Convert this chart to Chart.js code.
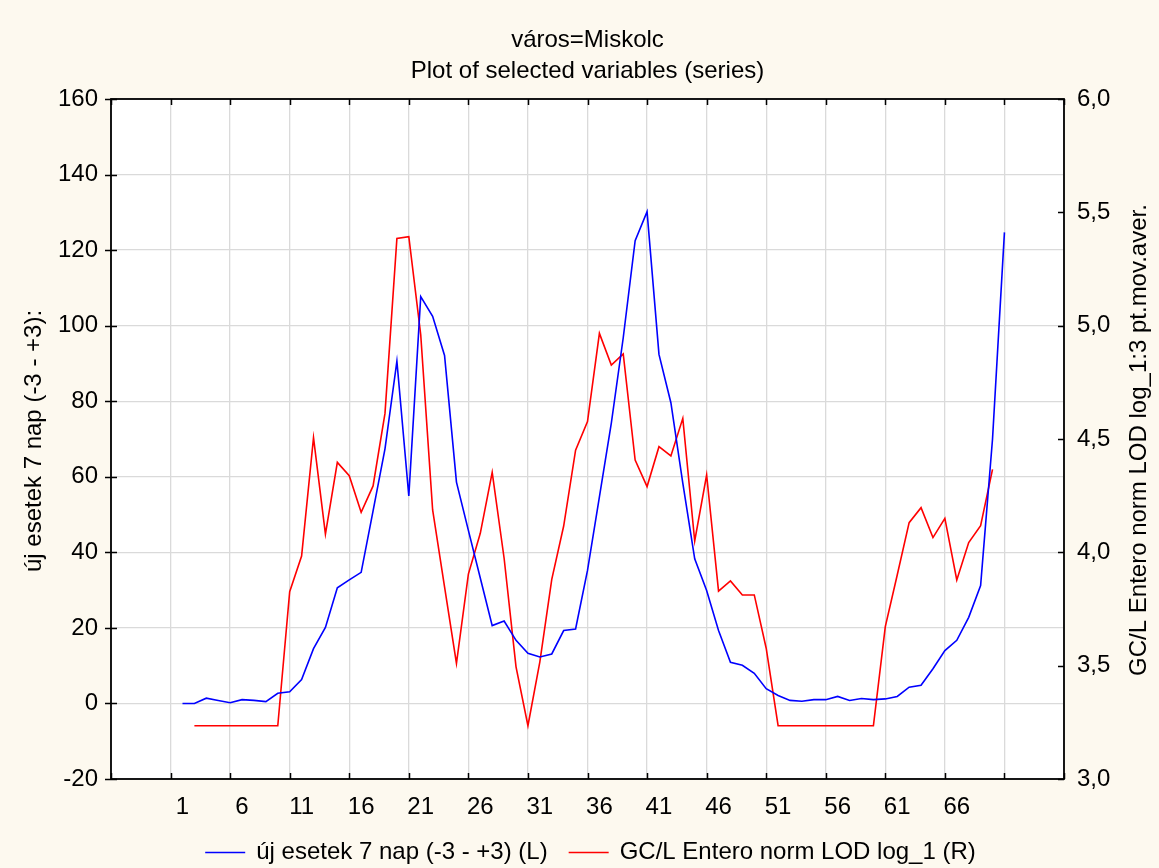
<!DOCTYPE html>
<html>
<head>
<meta charset="utf-8">
<script src="https://cdn.jsdelivr.net/npm/chart.js@4/dist/chart.umd.min.js"></script>
<style>
  html, body { margin: 0; padding: 0; background: #fdf9ef; }
  canvas { display: block; }
</style>
</head>
<body>
<canvas id="c" width="1159" height="868"></canvas>
<script>
// Case numbers (x axis)
const days = [
  1, 2, 3, 4, 5, 6, 7, 8, 9, 10,
  11, 12, 13, 14, 15, 16, 17, 18, 19, 20,
  21, 22, 23, 24, 25, 26, 27, 28, 29, 30,
  31, 32, 33, 34, 35, 36, 37, 38, 39, 40,
  41, 42, 43, 44, 45, 46, 47, 48, 49, 50,
  51, 52, 53, 54, 55, 56, 57, 58, 59, 60,
  61, 62, 63, 64, 65, 66, 67, 68, 69, 70
];

// új esetek 7 nap (-3 - +3)  -> left axis
const newCases = [
  0, 0, 1.4, 0.8, 0.2, 1.0, 0.8, 0.5, 2.7, 3.1,
  6.3, 14.5, 20.1, 30.6, 32.7, 34.7, 51.0, 67.4, 90.6, 54.9,
  107.7, 102.5, 92.1, 58.6, 45.8, 33.2, 20.6, 21.8, 16.7, 13.3,
  12.3, 13.1, 19.3, 19.7, 35.2, 54.7, 74.2, 96.8, 122.5, 130.2,
  92.4, 79.6, 58.3, 38.3, 29.9, 19.3, 10.9, 10.1, 8.0, 3.9,
  2.1, 0.8, 0.6, 1.0, 1.0, 1.85, 0.8, 1.3, 1.0, 1.2,
  1.85, 4.3, 4.8, 9.2, 14.0, 16.7, 22.8, 31.2, 70.0, 124.7
];

// GC/L Entero norm LOD log_1, 3 pt. moving average -> right axis
const enteroLog = [
  null, 3.235, 3.235, 3.235, 3.235, 3.235, 3.235, 3.235, 3.235, 3.826,
  3.984, 4.506, 4.080, 4.397, 4.338, 4.177, 4.293, 4.613, 5.385, 5.393,
  4.96, 4.187, 3.848, 3.510, 3.904, 4.084, 4.353, 3.974, 3.495, 3.235,
  3.517, 3.881, 4.116, 4.451, 4.577, 4.966, 4.826, 4.875, 4.407, 4.290,
  4.466, 4.425, 4.591, 4.050, 4.341, 3.829, 3.874, 3.812, 3.812, 3.577,
  3.235, 3.235, 3.235, 3.235, 3.235, 3.235, 3.235, 3.235, 3.235, 3.672,
  3.90, 4.131, 4.197, 4.065, 4.150, 3.878, 4.043, 4.118, 4.366, null
];

const titleLines = ['város=Miskolc', 'Plot of selected variables (series)'];
const leftTitle = 'új esetek 7 nap (-3 - +3):';
const rightTitle = 'GC/L Entero norm LOD log_1:3 pt.mov.aver.';
const seriesNames = ['új esetek 7 nap (-3 - +3) (L)', 'GC/L Entero norm LOD log_1 (R)'];

const FONT = "'Liberation Sans', Arial, sans-serif";
const PAGE_BG = '#fdf9ef';
const GRID = '#dadada';

const toPoints = ys => days.map((d, i) => ({ x: d, y: ys[i] }));

// Background, frame, inward tick marks, titles and legend
const decorations = {
  id: 'decorations',
  beforeDraw(chart) {
    const { ctx, chartArea: a } = chart;
    ctx.save();
    ctx.fillStyle = PAGE_BG;
    ctx.fillRect(0, 0, chart.width, chart.height);
    ctx.fillStyle = '#ffffff';
    ctx.fillRect(a.left, a.top, a.right - a.left, a.bottom - a.top);
    ctx.restore();
  },
  afterDraw(chart) {
    const { ctx, chartArea: a, scales } = chart;
    ctx.save();

    // plot frame
    ctx.strokeStyle = '#000';
    ctx.lineWidth = 1.8;
    ctx.strokeRect(a.left, a.top, a.right - a.left, a.bottom - a.top);

    // tick marks
    ctx.lineWidth = 1.5;
    ctx.beginPath();
    scales.x.ticks.forEach(t => {
      const px = Math.round(scales.x.getPixelForValue(t.value)) + 0.5;
      ctx.moveTo(px, a.top); ctx.lineTo(px, a.top + 6);
      ctx.moveTo(px, a.bottom); ctx.lineTo(px, a.bottom - 6);
    });
    scales.y.ticks.forEach(t => {
      const py = Math.round(scales.y.getPixelForValue(t.value)) + 0.5;
      ctx.moveTo(a.left - 6, py); ctx.lineTo(a.left + 6, py);
    });
    scales.y1.ticks.forEach(t => {
      const py = Math.round(scales.y1.getPixelForValue(t.value)) + 0.5;
      ctx.moveTo(a.right - 6, py); ctx.lineTo(a.right, py);
    });
    ctx.stroke();

    // chart title
    ctx.fillStyle = '#000';
    ctx.font = '24px ' + FONT;
    ctx.textAlign = 'center';
    ctx.textBaseline = 'middle';
    const cx = (a.left + a.right) / 2;
    ctx.fillText(titleLines[0], cx, 40);
    ctx.fillText(titleLines[1], cx, 71);

    // axis titles
    const cy = (a.top + a.bottom) / 2;
    ctx.save();
    ctx.translate(34, cy + 2);
    ctx.rotate(-Math.PI / 2);
    ctx.fillText(leftTitle, 0, 0);
    ctx.restore();
    ctx.save();
    ctx.translate(1139, cy + 1);
    ctx.rotate(-Math.PI / 2);
    ctx.fillText(rightTitle, 0, 0);
    ctx.restore();

    // legend
    const lineLen = 40, gapText = 11, gapItem = 21;
    const ds = chart.data.datasets;
    const widths = ds.map(d => ctx.measureText(d.label).width);
    const total = widths.reduce((s, w) => s + lineLen + gapText + w, 0) + gapItem * (ds.length - 1);
    let x = cx + 3 - total / 2;
    const ly = 852;
    ctx.textAlign = 'left';
    ds.forEach((d, i) => {
      ctx.strokeStyle = d.borderColor;
      ctx.lineWidth = 1.5;
      ctx.beginPath();
      ctx.moveTo(x, ly + 0.5); ctx.lineTo(x + lineLen, ly + 0.5);
      ctx.stroke();
      ctx.fillStyle = '#000';
      ctx.fillText(d.label, x + lineLen + gapText, ly);
      x += lineLen + gapText + widths[i] + gapItem;
    });
    ctx.restore();
  }
};

new Chart(document.getElementById('c'), {
  type: 'line',
  data: {
    datasets: [
      {
        label: seriesNames[0],
        data: toPoints(newCases),
        yAxisID: 'y',
        borderColor: '#0000ff',
        borderWidth: 1.6,
        pointRadius: 0,
        tension: 0,
        fill: false
      },
      {
        label: seriesNames[1],
        data: toPoints(enteroLog),
        yAxisID: 'y1',
        borderColor: '#ff0000',
        borderWidth: 1.6,
        pointRadius: 0,
        tension: 0,
        fill: false,
        spanGaps: false
      }
    ]
  },
  options: {
    responsive: false,
    animation: false,
    events: [],
    layout: { padding: { top: 99, bottom: 0, left: 0, right: 0 } },
    plugins: {
      legend: { display: false },
      title: { display: false },
      tooltip: { enabled: false }
    },
    scales: {
      x: {
        type: 'linear',
        min: -5,
        max: 75,
        border: { display: false },
        grid: { color: GRID, lineWidth: 1.3, drawTicks: false },
        ticks: {
          stepSize: 5,
          autoSkip: false,
          maxRotation: 0,
          labelOffset: 11.9,
          padding: 14,
          color: '#000',
          font: { family: FONT, size: 24 },
          callback: v => (v >= 0 && v <= 65) ? String(v + 1) : ''
        },
        afterFit: s => { s.height = 89; }
      },
      y: {
        position: 'left',
        min: -20,
        max: 160,
        border: { display: false },
        grid: { color: GRID, lineWidth: 1.3, drawTicks: false },
        ticks: {
          stepSize: 20,
          padding: 13,
          color: '#000',
          font: { family: FONT, size: 24 }
        },
        afterFit: s => { s.width = 111; }
      },
      y1: {
        position: 'right',
        min: 3,
        max: 6,
        border: { display: false },
        grid: { display: false, drawTicks: false },
        ticks: {
          stepSize: 0.5,
          padding: 13,
          color: '#000',
          font: { family: FONT, size: 24 },
          callback: v => v.toFixed(1).replace('.', ',')
        },
        afterFit: s => { s.width = 95; }
      }
    }
  },
  plugins: [decorations]
});
</script>
</body>
</html>
